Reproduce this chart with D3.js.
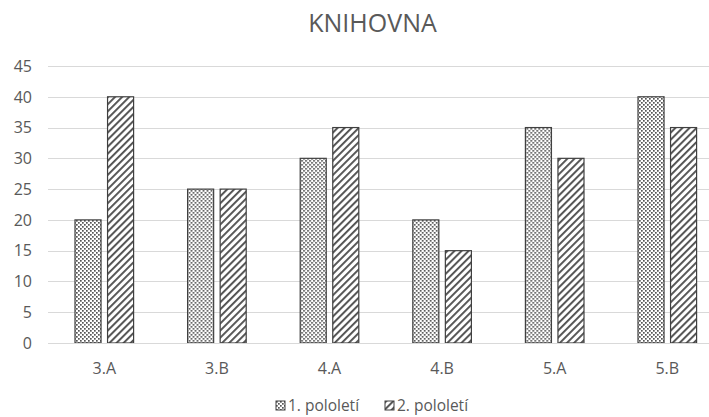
<!DOCTYPE html>
<html lang="cs">
<head>
  <meta charset="UTF-8">
  <title>Knihovna</title>
  <style>
    body { margin: 0; background: white; }
    text { font-family: 'Open Sans', sans-serif; fill: #595959; }
  </style>
</head>
<body>
  <svg id="svg" width="709" height="417"></svg>
  <script src="https://d3js.org/d3.v7.min.js"></script>
  <script>
    const classes = ['3.A', '3.B', '4.A', '4.B', '5.A', '5.B']
    const series = ['1. pololetí', '2. pololetí']
    const firstTerm = [20, 25, 30, 20, 35, 40]
    const secondTerm = [40, 25, 35, 15, 30, 35]
    const yTicks = [0, 5, 10, 15, 20, 25, 30, 35, 40, 45]

    const width = 709
    const height = 417
    const svg = d3.select('#svg')

    // patterns
    const defs = svg.append('defs')
    const dots = defs.append('pattern')
      .attr('id', 'dots')
      .attr('width', 4).attr('height', 4)
      .attr('patternUnits', 'userSpaceOnUse')
    dots.append('rect').attr('width', 4).attr('height', 4).attr('fill', 'white')
    dots.append('rect').attr('x', 0).attr('y', 0).attr('width', 1.7).attr('height', 1.7).attr('fill', '#555')
    dots.append('rect').attr('x', 2).attr('y', 2).attr('width', 1.7).attr('height', 1.7).attr('fill', '#555')

    const stripes = defs.append('pattern')
      .attr('id', 'stripes')
      .attr('width', 5).attr('height', 5)
      .attr('patternUnits', 'userSpaceOnUse')
      .attr('patternTransform', 'rotate(45)')
    stripes.append('rect').attr('width', 5).attr('height', 5).attr('fill', 'white')
    stripes.append('rect').attr('width', 1.9).attr('height', 5).attr('fill', '#505050')

    const fills = ['url(#dots)', 'url(#stripes)']

    const x = d3.scaleBand()
      .domain(classes)
      .range([48, 723.6])
    const inner = d3.scaleBand()
      .domain(series)
      .range([27, x.bandwidth() - 27])
      .paddingInner(0.2)
    const y = d3.scaleLinear()
      .domain([0, 45])
      .range([343, 66])

    // grid
    svg.append('g')
      .selectAll('line')
      .data(yTicks)
      .enter()
      .append('line')
      .attr('x1', 48)
      .attr('x2', width)
      .attr('y1', d => Math.round(y(d)) + 0.5)
      .attr('y2', d => Math.round(y(d)) + 0.5)
      .attr('stroke', '#d9d9d9')
      .attr('stroke-width', 1)

    svg.append('g')
      .selectAll('text')
      .data(yTicks)
      .enter()
      .append('text')
      .attr('x', 32)
      .attr('y', d => y(d))
      .attr('dy', '0.36em')
      .attr('text-anchor', 'end')
      .style('font-size', '16px')
      .text(d => d)

    // bars
    const rows = classes.map((c, i) => ({ c, values: [firstTerm[i], secondTerm[i]] }))
    const groups = svg.append('g')
      .selectAll('g')
      .data(rows)
      .enter()
      .append('g')
      .attr('transform', d => `translate(${x(d.c)}, 0)`)
    groups.selectAll('rect')
      .data(d => d.values.map((v, i) => ({ s: series[i], v, i })))
      .enter()
      .append('rect')
      .attr('x', d => inner(d.s))
      .attr('y', d => y(d.v))
      .attr('width', inner.bandwidth())
      .attr('height', d => y(0) - y(d.v))
      .attr('fill', d => fills[d.i])
      .attr('stroke', '#404040')
      .attr('stroke-width', 1.2)

    // x axis
    svg.append('line')
      .attr('x1', 48).attr('x2', width)
      .attr('y1', Math.round(y(0)) + 0.5).attr('y2', Math.round(y(0)) + 0.5)
      .attr('stroke', '#d9d9d9')

    svg.append('g')
      .selectAll('text')
      .data(classes)
      .enter()
      .append('text')
      .attr('x', d => x(d) + x.bandwidth() / 2)
      .attr('y', 374)
      .attr('text-anchor', 'middle')
      .style('font-size', '16px')
      .text(d => d)

    // title
    svg.append('text')
      .attr('x', 372.5)
      .attr('y', 32)
      .attr('text-anchor', 'middle')
      .style('font-size', '25px')
      .text('KNIHOVNA')

    // legend
    const legendX = [276, 385]
    const legend = svg.append('g')
      .selectAll('g')
      .data(series)
      .enter()
      .append('g')
      .attr('transform', (d, i) => `translate(${legendX[i]}, 401)`)
    legend.append('rect')
      .attr('width', 9).attr('height', 9)
      .attr('fill', (d, i) => fills[i])
      .attr('stroke', '#404040')
    legend.append('text')
      .attr('x', 12)
      .attr('y', 10)
      .style('font-size', '15.5px')
      .text(d => d)
  </script>
</body>
</html>
